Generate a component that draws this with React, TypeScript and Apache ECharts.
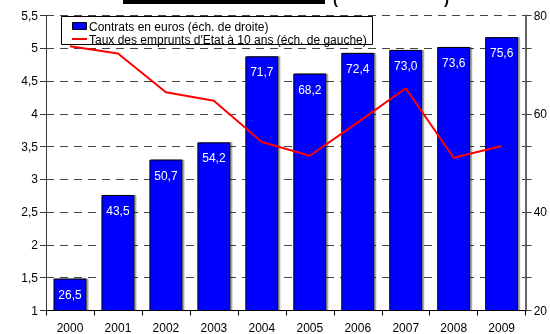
import React, { useEffect, useRef } from "react";
import * as echarts from "echarts";

const years = ["2000", "2001", "2002", "2003", "2004", "2005", "2006", "2007", "2008", "2009"];
const contrats = [26.5, 43.5, 50.7, 54.2, 71.7, 68.2, 72.4, 73.0, 73.6, 75.6];
const taux = [5.03, 4.92, 4.33, 4.2, 3.57, 3.36, 3.87, 4.39, 3.33, 3.51];
const barName = "Contrats en euros (éch. de droite)";
const lineName = "Taux des emprunts d'Etat à 10 ans (éch. de gauche)";

const FONT = "'Liberation Sans', Arial, sans-serif";

export default function App() {
  const ref = useRef<HTMLDivElement>(null);
  useEffect(() => {
    if (!ref.current) return;
    const chart = echarts.init(ref.current, null, { renderer: "svg" });
    chart.setOption({
      animation: false,
      textStyle: { fontFamily: FONT },
      grid: { left: 46, right: 22, top: 15.5, bottom: 23.5, containLabel: false },
      legend: { show: false },
      graphic: [
        { type: "rect", shape: { x: 123, y: 0, width: 202, height: 4 }, style: { fill: "#000" } },
        { type: "text", x: 333, y: 6, style: { text: "(", font: `bold 15px ${FONT}`, fill: "#000", verticalAlign: "bottom" } },
        { type: "text", x: 444, y: 6, style: { text: ")", font: `bold 15px ${FONT}`, fill: "#000", verticalAlign: "bottom" } },
        {
          type: "group",
          z: 100,
          children: [
            { type: "rect", shape: { x: 61.5, y: 16.5, width: 311, height: 28 }, style: { fill: "#fff", stroke: "#000", lineWidth: 1 } },
            { type: "rect", shape: { x: 72.5, y: 22.5, width: 14, height: 7 }, style: { fill: "#0000ff", stroke: "#000", lineWidth: 1 } },
            { type: "text", x: 89, y: 26.5, style: { text: barName, font: `12px ${FONT}`, fill: "#000", verticalAlign: "middle" } },
            { type: "line", shape: { x1: 72, y1: 39, x2: 87, y2: 39 }, style: { stroke: "#ff0000", lineWidth: 2 } },
            { type: "text", x: 89, y: 39.5, style: { text: lineName, font: `12px ${FONT}`, fill: "#000", verticalAlign: "middle" } },
          ],
        },
      ],
      xAxis: {
        type: "category",
        data: years,
        boundaryGap: true,
        axisLine: { lineStyle: { color: "#000", width: 1 } },
        axisTick: { show: true, length: 5, lineStyle: { color: "#000" } },
        axisLabel: { color: "#000", fontSize: 12, margin: 11, fontFamily: FONT },
      },
      yAxis: [
        {
          type: "value",
          min: 1,
          max: 5.5,
          interval: 0.5,
          position: "left",
          axisLine: { show: true, lineStyle: { color: "#333", width: 1 } },
          axisTick: { show: true, length: 6, lineStyle: { color: "#333" } },
          axisLabel: {
            color: "#000",
            fontSize: 12,
            margin: 8,
            fontFamily: FONT,
            formatter: (v: number) => String(Math.round(v * 10) / 10).replace(".", ","),
          },
          splitLine: { show: true, lineStyle: { color: "#444", type: [8, 6], width: 1 } },
        },
        {
          type: "value",
          min: 20,
          max: 80,
          interval: 20 / 3,
          position: "right",
          axisLine: { show: true, lineStyle: { color: "#666", width: 2 } },
          axisTick: { show: true, length: 6, lineStyle: { color: "#444" } },
          axisLabel: {
            color: "#000",
            fontSize: 12,
            margin: 8,
            fontFamily: FONT,
            formatter: (v: number) => {
              const r = v / 20;
              return Math.abs(r - Math.round(r)) < 0.01 ? String(Math.round(v)) : "";
            },
          },
          splitLine: { show: false },
        },
      ],
      series: [
        {
          name: barName,
          type: "bar",
          yAxisIndex: 1,
          data: contrats,
          barWidth: 33,
          itemStyle: {
            color: "#0000ff",
            borderColor: "#000",
            borderWidth: 1,
            shadowColor: "rgba(0,0,0,0.35)",
            shadowOffsetX: 2,
            shadowOffsetY: 0,
            shadowBlur: 0,
          },
          label: {
            show: true,
            position: "insideTop",
            distance: 10,
            color: "#fff",
            fontSize: 12,
            fontFamily: FONT,
            formatter: (p: any) => Number(p.value).toFixed(1).replace(".", ","),
          },
          z: 2,
        },
        {
          name: lineName,
          type: "line",
          yAxisIndex: 0,
          data: taux,
          symbol: "none",
          lineStyle: { color: "#ff0000", width: 2 },
          itemStyle: { color: "#ff0000" },
          z: 3,
        },
      ],
    });
    return () => chart.dispose();
  }, []);
  return <div ref={ref} style={{ position: "fixed", left: 0, top: 0, width: 550, height: 334 }} />;
}
